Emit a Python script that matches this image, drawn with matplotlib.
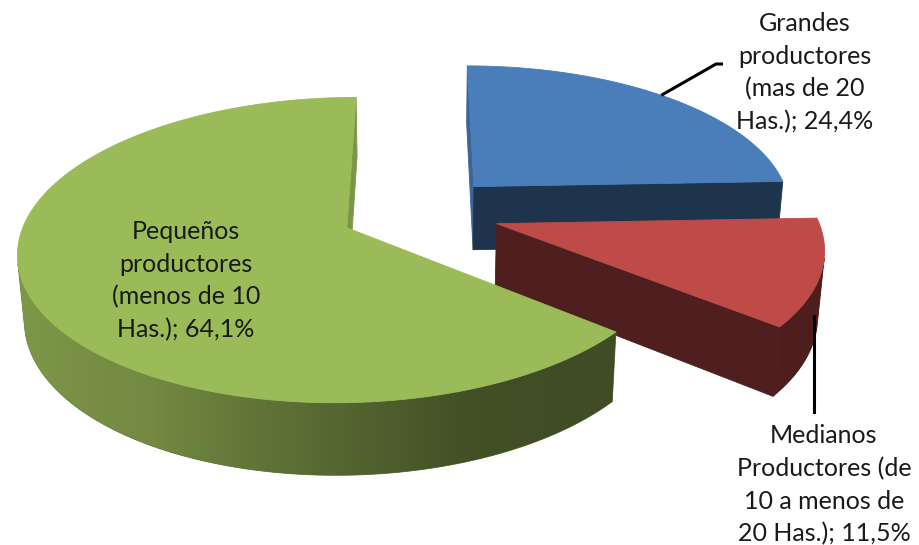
import numpy as np
import matplotlib.pyplot as plt
from matplotlib.colors import to_rgb
from matplotlib.patches import Polygon

# slice data (clockwise from 12 o'clock)
labels = [
    "Grandes\nproductores\n(mas de 20\nHas.); 24,4%",
    "Medianos\nProductores (de\n10 a menos de\n20 Has.); 11,5%",
    "Pequeños\nproductores\n(menos de 10\nHas.); 64,1%",
]
shares = [24.4, 11.5, 64.1]
top_colors = ["#4A7EBB", "#BE4B48", "#9BBB59"]

# camera / extrusion settings for the 3D look
F = 1975.0
ELEV = np.radians(27.0)
DIST = 6.19
CX, CY = 420.0, 212.0
DEPTH = 0.23
EXPLODE = 0.25
S, C = np.sin(ELEV), np.cos(ELEV)
CAM = np.array([0.0, -DIST * C, DIST * S])

# brightness of the outer wall vs. angle (degrees, clockwise from top)
wall_ang = [0, 140, 160, 180, 210, 240, 270, 360]
wall_fac = [0.41, 0.41, 0.43, 0.55, 0.74, 0.80, 0.83, 0.83]


def project(x, y, z):
    d = DIST + y * C - z * S
    return CX + F * x / d, CY - F * (y * S + z * C) / d


def shade(color, k):
    return tuple(np.clip(np.array(to_rgb(color)) * k, 0, 1))


def face(ax, pts3d, color):
    xy = [project(*p) for p in pts3d]
    patch = Polygon(xy, closed=True, facecolor=color, edgecolor=color, lw=0.6)
    ax.add_patch(patch)
    return patch


fig = plt.figure(figsize=(9.2, 5.45), dpi=100)
ax = fig.add_axes([0, 0, 1, 1])
ax.set_xlim(0, 920)
ax.set_ylim(545, 0)
ax.axis("off")

bounds = np.radians(np.concatenate([[0], np.cumsum(shares)]) / 100 * 360)
apex = []
for i in range(len(shares)):
    t0, t1 = bounds[i], bounds[i + 1]
    mid = (t0 + t1) / 2
    ox, oy = EXPLODE * np.sin(mid), EXPLODE * np.cos(mid)
    apex.append((ox, oy))
    col = top_colors[i]

    # flat cut faces
    for t, sgn in ((t0, -1), (t1, 1)):
        n = sgn * np.array([np.cos(t), -np.sin(t), 0.0])
        if np.dot(CAM - np.array([ox, oy, 0.0]), n) > 0:
            rx, ry = ox + np.sin(t), oy + np.cos(t)
            k = 0.41 if n[1] < -0.1 else 0.8
            face(ax, [(ox, oy, 0), (rx, ry, 0), (rx, ry, -DEPTH), (ox, oy, -DEPTH)], shade(col, k))

    # curved outer wall: one polygon for the visible part, filled with a gradient
    th = np.linspace(t0, t1, 400)
    nx, ny = np.sin(th), np.cos(th)
    vis = (CAM[0] - ox - nx) * nx + (CAM[1] - oy - ny) * ny > 0
    if vis.sum() > 1:
        tv = th[vis]
        top = [(ox + np.sin(t), oy + np.cos(t), 0) for t in tv]
        bot = [(ox + np.sin(t), oy + np.cos(t), -DEPTH) for t in tv[::-1]]
        k_mid = np.interp(np.degrees(tv.mean()), wall_ang, wall_fac)
        wall = face(ax, top + bot, shade(col, k_mid))
        sx = np.array([project(*p)[0] for p in top])
        order = np.argsort(sx)
        gx = np.linspace(sx.min(), sx.max(), 600)
        gt = np.interp(gx, sx[order], np.degrees(tv[order]))
        k = np.interp(gt, wall_ang, wall_fac)
        grad = np.array([shade(col, kk) for kk in k])[None, :, :]
        img = ax.imshow(grad, extent=(gx[0], gx[-1], 545, 0), aspect="auto",
                        interpolation="bilinear", zorder=wall.get_zorder())
        img.set_clip_path(wall)

    # top face
    th = np.linspace(t0, t1, 200)
    pts = [(ox, oy, 0)] + [(ox + np.sin(t), oy + np.cos(t), 0) for t in th]
    face(ax, pts, col)

ax.set_xlim(0, 920)
ax.set_ylim(545, 0)

font = dict(family=["Lato", "DejaVu Sans"], fontsize=18, color="#1a1a1a",
            ha="center", va="center", linespacing=1.5)

# Grandes: leader from the rim of the blue slice
ox, oy = apex[0]
t = np.radians(43)
x0, y0 = project(ox + np.sin(t), oy + np.cos(t), 0)
ax.plot([x0, 716, 723], [y0, 64, 64], color="black", lw=2.2, solid_capstyle="butt")
ax.text(805, 73, labels[0], **font)

# Medianos: vertical leader from the red wall
ox, oy = apex[1]
t = np.radians(112)
x1, y1 = project(ox + np.sin(t), oy + np.cos(t), -DEPTH * 0.5)
ax.plot([x1, x1], [y1, 412], color="black", lw=2.2)
ax.text(824, 485, labels[1], **font)

# Pequeños: inside the green slice
ax.text(186, 281, labels[2], **font)

fig.savefig("out.png", dpi=100)
